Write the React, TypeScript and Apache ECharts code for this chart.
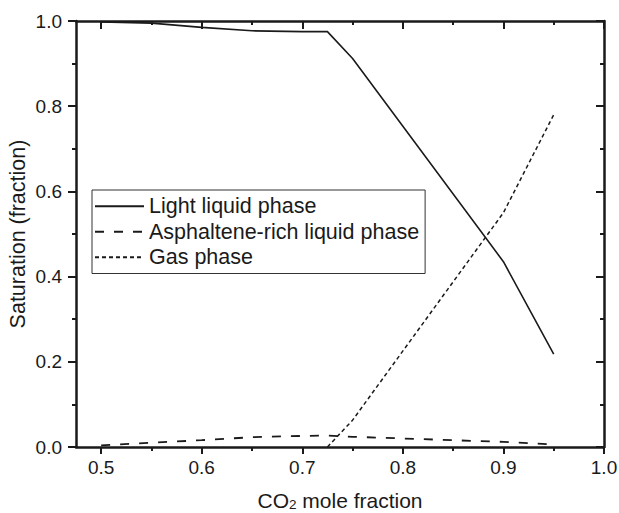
import React, { useEffect, useRef } from "react";
import * as echarts from "echarts";

const FONT = '"Liberation Sans", Arial, Helvetica, sans-serif';
const INK = "#1a1a1a";

const lightX = [0.5, 0.55, 0.6, 0.65, 0.7, 0.725, 0.75, 0.9, 0.95];
const lightY = [0.998, 0.995, 0.985, 0.977, 0.975, 0.975, 0.912, 0.435, 0.218];

const asphX = [0.5, 0.55, 0.6, 0.65, 0.7, 0.725, 0.75, 0.8, 0.85, 0.9, 0.95];
const asphY = [0.004, 0.01, 0.016, 0.023, 0.026, 0.027, 0.024, 0.02, 0.016, 0.012, 0.006];

const gasX = [0.725, 0.75, 0.9, 0.95];
const gasY = [0.0, 0.063, 0.55, 0.78];

const xMajor = [0.5, 0.6, 0.7, 0.8, 0.9, 1.0];
const xMinor = [0.55, 0.65, 0.75, 0.85, 0.95];
const yMajor = [0.0, 0.2, 0.4, 0.6, 0.8, 1.0];
const yMinor = [0.1, 0.3, 0.5, 0.7, 0.9];

const seriesNames = ["Light liquid phase", "Asphaltene-rich liquid phase", "Gas phase"];

const pairs = (xs: number[], ys: number[]) => xs.map((x, i) => [x, ys[i]]);

const X_MIN = 0.475;
const X_MAX = 1.0;

export default function App() {
  const ref = useRef<HTMLDivElement>(null);
  useEffect(() => {
    if (!ref.current) return;
    const chart = echarts.init(ref.current, null, { renderer: "svg" });
    const grid = { left: 76, right: 15, top: 21, bottom: 66, containLabel: false, outerBoundsMode: "none" };
    const axLine = { show: true, onZero: false, lineStyle: { color: INK, width: 2.5 } };
    const noLine = { show: false, onZero: false };
    const tick = (vals: number[], inside: boolean, length: number) => ({
      show: true,
      inside,
      length,
      customValues: vals,
      lineStyle: { color: INK, width: 2 },
    });
    const tickAxisX = (gridIndex: number, position: string, vals: number[], inside: boolean, length: number, line: boolean) => ({
      type: "value",
      gridIndex,
      position,
      min: X_MIN,
      max: X_MAX,
      axisLine: line ? axLine : noLine,
      axisTick: tick(vals, inside, length),
      axisLabel: { show: false },
      splitLine: { show: false },
    });
    const tickAxisY = (gridIndex: number, position: string, vals: number[], inside: boolean, length: number, line: boolean) => ({
      type: "value",
      gridIndex,
      position,
      min: 0,
      max: 1,
      axisLine: line ? axLine : noLine,
      axisTick: tick(vals, inside, length),
      axisLabel: { show: false },
      splitLine: { show: false },
    });

    chart.setOption({
      animation: false,
      backgroundColor: "#fff",
      grid: [grid, { ...grid }],
      legend: {
        orient: "vertical",
        left: 92,
        top: 190,
        padding: [5, 6, 5, 2],
        itemGap: 3,
        itemWidth: 49,
        itemHeight: 14,
        borderColor: "#333",
        borderWidth: 1,
        selectedMode: false,
        data: seriesNames,
        itemStyle: { color: "transparent", borderColor: "transparent", borderWidth: 0 },
        textStyle: { fontFamily: FONT, fontSize: 21.5, color: INK, lineHeight: 22.5 },
      },
      xAxis: [
        {
          ...tickAxisX(0, "bottom", xMajor, false, 7, true),
          axisLabel: {
            show: true,
            customValues: xMajor,
            margin: 11,
            fontFamily: FONT,
            fontSize: 19,
            color: INK,
            formatter: (v: number) => v.toFixed(1),
          },
          name: "{n|CO}{s|2}{n| mole fraction}",
          nameLocation: "middle",
          nameGap: 43,
          nameMoveOverlap: false,
          nameTextStyle: {
            rich: {
              n: { fontFamily: FONT, fontSize: 21, color: INK, verticalAlign: "middle" },
              s: { fontFamily: FONT, fontSize: 13.5, color: INK, verticalAlign: "top", padding: [7, 0, 0, 0] },
            },
          },
        },
        tickAxisX(0, "top", xMajor, true, 8, true),
        tickAxisX(1, "bottom", xMinor, false, 4, false),
        tickAxisX(1, "top", xMinor, true, 4, false),
      ],
      yAxis: [
        {
          ...tickAxisY(0, "left", yMajor, false, 8, true),
          axisLabel: {
            show: true,
            customValues: yMajor,
            margin: 14,
            fontFamily: FONT,
            fontSize: 19,
            color: INK,
            formatter: (v: number) => v.toFixed(1),
          },
          name: "Saturation (fraction)",
          nameLocation: "middle",
          nameGap: 47,
          nameMoveOverlap: false,
          nameTextStyle: { fontFamily: FONT, fontSize: 21.5, color: INK },
        },
        tickAxisY(0, "right", yMajor, true, 8, true),
        tickAxisY(1, "left", yMinor, false, 4, false),
        tickAxisY(1, "right", yMinor, true, 4, false),
      ],
      series: [
        {
          name: seriesNames[0],
          type: "line",
          xAxisIndex: 0,
          yAxisIndex: 0,
          data: pairs(lightX, lightY),
          symbol: "none",
          lineStyle: { color: INK, width: 1.6, type: "solid" },
          itemStyle: { color: INK },
        },
        {
          name: seriesNames[1],
          type: "line",
          xAxisIndex: 0,
          yAxisIndex: 0,
          data: pairs(asphX, asphY),
          symbol: "none",
          lineStyle: { color: INK, width: 1.8, type: [9, 10] },
          itemStyle: { color: INK },
        },
        {
          name: seriesNames[2],
          type: "line",
          xAxisIndex: 0,
          yAxisIndex: 0,
          data: pairs(gasX, gasY),
          symbol: "none",
          lineStyle: { color: INK, width: 1.5, type: [4, 3] },
          itemStyle: { color: INK },
        },
      ],
    });
    return () => chart.dispose();
  }, []);
  return (
    <div
      ref={ref}
      style={{ position: "fixed", left: 0, top: 0, width: 619, height: 513, background: "#fff" }}
    />
  );
}
